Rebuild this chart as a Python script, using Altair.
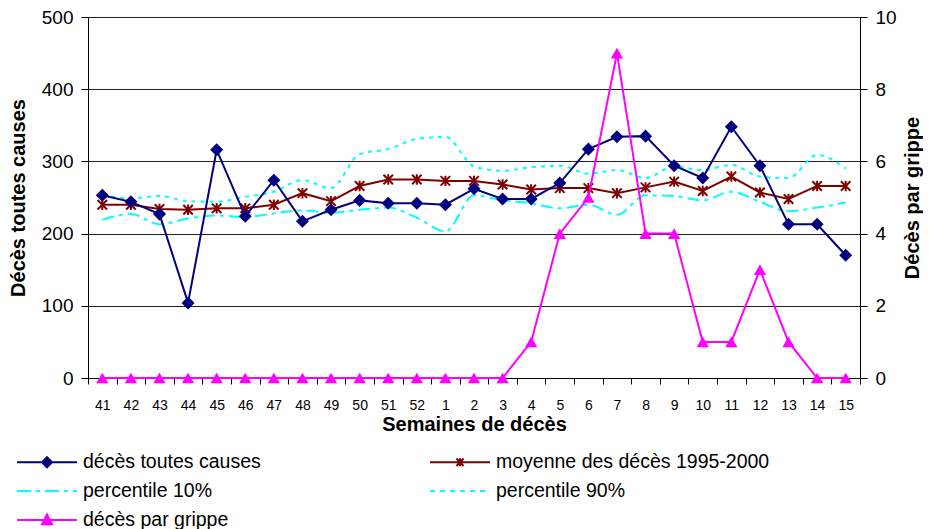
import altair as alt
import pandas as pd

weeks = ["41", "42", "43", "44", "45", "46", "47", "48", "49", "50", "51", "52",
         "1", "2", "3", "4", "5", "6", "7", "8", "9", "10", "11", "12", "13", "14", "15"]
deces = [253, 244, 227, 104, 316, 224, 274, 217, 233, 246, 242, 242,
         240, 262, 248, 248, 270, 317, 334, 335, 294, 277, 348, 294, 213, 213, 170]
moyenne = [240, 240, 234, 233, 235, 235, 240, 256, 245, 266, 275, 275,
           273, 273, 268, 261, 263, 263, 256, 264, 272, 259, 279, 257, 248, 266, 266]
p10 = [219, 227, 213, 221, 225, 223, 228, 232, 229, 233, 236, 222,
       203, 253, 246, 242, 235, 240, 226, 253, 252, 246, 258, 244, 231, 236, 243]
p90 = [253, 249, 252, 245, 244, 251, 258, 274, 263, 310, 317, 331,
       334, 293, 287, 292, 294, 283, 288, 277, 293, 288, 295, 279, 277, 309, 290]
grippe = [0, 0, 0, 0, 0, 0, 0, 0, 0, 0, 0, 0,
          0, 0, 0, 1, 4, 5, 9, 4, 4, 1, 1, 3, 1, 0, 0]

# legend order (column-major: first column then second column)
series_names = ["décès toutes causes", "percentile 10%", "décès par grippe",
                "moyenne des décès 1995-2000", "percentile 90%"]
series_colors = ["#000080", "#00FFFF", "#FF00FF", "#800000", "#00FFFF"]

FONT = "Liberation Sans"

df = pd.DataFrame({"week": weeks, "deces": deces, "moyenne": moyenne,
                   "p10": p10, "p90": p90, "grippe": grippe})

# legend symbols: line + marker, drawn as SVG paths (10 px per unit)
legend_paths = [
    "M-3,0H3M0,-0.5L0.5,0L0,0.5L-0.5,0Z",
    "M-3,0H-1.6M-1.1,0H-0.7M-0.2,0H1.2M1.7,0H2.1M2.6,0H3",
    "M-3,0H3M0,-0.55L0.5,0.42L-0.5,0.42Z",
    "M-3,0H3M-0.35,-0.38L0.35,0.38M-0.35,0.38L0.35,-0.38M0,-0.4L0,0.4",
    "M-3,0H-2.5M-2,0H-1.5M-1,0H-0.5M0,0H0.5M1,0H1.5M2,0H2.5",
]
star_path = "M-1,-1L1,1M-1,1L1,-1M0,-1.1L0,1.1"

x_enc = alt.X("week:O", sort=weeks,
              scale=alt.Scale(type="band", paddingInner=0, paddingOuter=0),
              axis=alt.Axis(title="Semaines de décès", labelAngle=0, tickBand="extent",
                            grid=False, tickSize=6, labelPadding=14, labelFontSize=14,
                            titleFontSize=20, titleFontWeight="bold", titlePadding=2,
                            domainColor="black", tickColor="black"))


def yl(field):
    return alt.Y(f"{field}:Q", scale=alt.Scale(domain=[0, 500]),
                 axis=alt.Axis(title="Décès toutes causes", values=[0, 100, 200, 300, 400, 500],
                               grid=True, gridColor="#222", tickSize=7, labelPadding=8,
                               labelFontSize=19, titleFontSize=20, titleFontWeight="bold",
                               titlePadding=13))


leg = alt.Legend(title=None, orient="none", legendX=-52, legendY=434, columns=2,
                 columnPadding=165, rowPadding=8, symbolSize=400, symbolStrokeWidth=2,
                 labelFont=FONT, labelFontSize=19.5, labelColor="black", labelOffset=25,
                 labelLimit=500, padding=0, symbolOpacity=1)

legend_layer = alt.Chart(df).transform_filter("false").mark_point(filled=True, opacity=1).encode(
    x=x_enc, y=yl("deces"),
    shape=alt.Shape("series:N", scale=alt.Scale(domain=series_names, range=legend_paths), legend=leg),
    fill=alt.Fill("series:N", scale=alt.Scale(domain=series_names, range=series_colors), legend=leg),
    stroke=alt.Stroke("series:N", scale=alt.Scale(domain=series_names, range=series_colors), legend=leg),
)

base = alt.Chart(df)
p10_line = base.mark_line(color="#00FFFF", strokeWidth=2, strokeDash=[12, 5, 4, 5],
                          interpolate="monotone").encode(x=x_enc, y=yl("p10"))
p90_line = base.mark_line(color="#00FFFF", strokeWidth=2, strokeDash=[4, 5],
                          interpolate="monotone").encode(x=x_enc, y=yl("p90"))
moy_line = base.mark_line(color="#800000", strokeWidth=2).encode(x=x_enc, y=yl("moyenne"))
moy_pts = base.mark_point(shape=star_path, size=90, color="#800000", filled=False,
                          strokeWidth=2, opacity=1).encode(x=x_enc, y=yl("moyenne"))
dec_line = base.mark_line(color="#000080", strokeWidth=2).encode(x=x_enc, y=yl("deces"))
dec_pts = base.mark_point(shape="diamond", size=170, color="#000080", filled=True,
                          opacity=1).encode(x=x_enc, y=yl("deces"))

left = alt.layer(legend_layer, p10_line, p90_line, moy_line, moy_pts, dec_line, dec_pts)

yr = alt.Y("grippe:Q", scale=alt.Scale(domain=[0, 10]),
           axis=alt.Axis(orient="right", title="Décès par grippe", values=[0, 2, 4, 6, 8, 10],
                         grid=False, tickSize=7, labelPadding=8, labelFontSize=19,
                         titleFontSize=20, titleFontWeight="bold", titlePadding=26,
                         titleAngle=270))
gr_line = base.mark_line(color="#FF00FF", strokeWidth=2).encode(x=x_enc, y=yr)
gr_pts = base.mark_point(shape="triangle-up", size=150, color="#FF00FF", filled=True,
                         opacity=1).encode(x=x_enc, y=yr)
right = alt.layer(gr_line, gr_pts)

chart = alt.layer(left, right).resolve_scale(y="independent").properties(
    width=772, height=361, padding=0
).configure_axis(
    labelFont=FONT, titleFont=FONT, labelColor="black", titleColor="black",
    domainColor="black", tickColor="black"
).configure_view(stroke=None)

chart.save("out.html", embed_options={"renderer": "svg", "actions": False})
